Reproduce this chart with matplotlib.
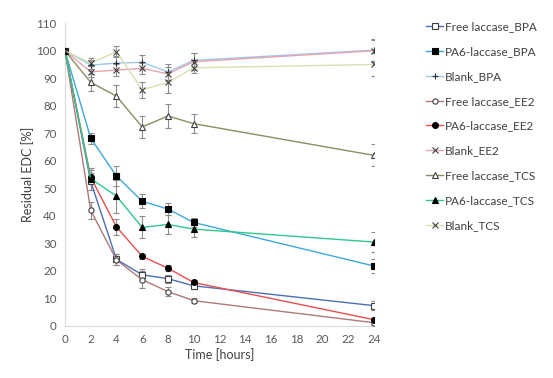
import matplotlib
matplotlib.use("Agg")
import matplotlib.pyplot as plt

plt.rcParams['font.family'] = ['Lato', 'DejaVu Sans']

time = [0, 2, 4, 6, 8, 10, 24]

free_bpa = [100, 52.5, 24.2, 18.6, 17.2, 14.6, 7.4]
pa6_bpa = [100, 68.2, 54.5, 45.3, 42.5, 37.6, 21.8]
blank_bpa = [100, 94.8, 95.5, 95.8, 92.3, 96.5, 100.2]
free_ee2 = [100, 42.0, 24.0, 16.8, 12.5, 9.2, 1.2]
pa6_ee2 = [100, 54.0, 36.0, 25.3, 21.0, 15.8, 2.3]
blank_ee2 = [100, 92.3, 93.0, 93.6, 91.6, 96.0, 100.0]
free_tcs = [100, 88.5, 83.5, 72.3, 76.3, 73.5, 62.0]
pa6_tcs = [100, 53.5, 47.2, 35.8, 36.9, 35.2, 30.5]
blank_tcs = [100, 95.5, 99.7, 85.8, 88.5, 93.8, 95.0]

err_free_bpa = [0, 3.0, 2.0, 2.0, 1.5, 1.2, 1.5]
err_pa6_bpa = [0, 2.0, 3.5, 2.5, 2.0, 1.5, 2.5]
err_blank_bpa = [0, 2.0, 2.5, 2.5, 3.0, 2.5, 4.0]
err_free_ee2 = [0, 3.0, 2.0, 3.0, 1.5, 1.0, 1.0]
err_pa6_ee2 = [0, 2.5, 3.0, 1.0, 1.0, 1.0, 1.0]
err_blank_ee2 = [0, 2.0, 2.0, 2.0, 2.5, 3.0, 4.0]
err_free_tcs = [0, 3.0, 4.0, 4.0, 4.5, 3.5, 4.0]
err_pa6_tcs = [0, 4.0, 6.0, 4.0, 3.5, 3.0, 3.5]
err_blank_tcs = [0, 2.0, 2.0, 3.0, 4.0, 2.0, 4.0]

labels = ["Free laccase_BPA", "PA6-laccase_BPA", "Blank_BPA",
          "Free laccase_EE2", "PA6-laccase_EE2", "Blank_EE2",
          "Free laccase_TCS", "PA6-laccase_TCS", "Blank_TCS"]

series = [free_bpa, pa6_bpa, blank_bpa, free_ee2, pa6_ee2, blank_ee2,
          free_tcs, pa6_tcs, blank_tcs]
errors = [err_free_bpa, err_pa6_bpa, err_blank_bpa, err_free_ee2, err_pa6_ee2,
          err_blank_ee2, err_free_tcs, err_pa6_tcs, err_blank_tcs]
colors = ["#4a6fb5", "#3aa8dc", "#9cc8ec", "#b07878", "#e8504e", "#e8a4ae",
          "#8c8c64", "#2ec88a", "#d6e2b0"]
markers = ["s", "s", "+", "o", "o", "x", "^", "^", "x"]
faces = ["white", "black", "black", "white", "black", "black", "white", "black", "black"]
edges = ["#404040", "black", "#303030", "#404040", "black", "#404040", "#404040", "black", "#404040"]
sizes = [3.8, 4.2, 5, 3.8, 4.2, 4, 4, 4.3, 4.3]

fig = plt.figure(figsize=(5.53, 3.78), dpi=100)
ax = fig.add_axes([0.1175, 0.1376, 0.5585, 0.801])

handles = []
for y, e, c, m, f, ec, s, lab in zip(series, errors, colors, markers, faces, edges, sizes, labels):
    ax.errorbar(time, y, yerr=e, fmt='none', ecolor='#8c8c8c', elinewidth=0.8,
                capsize=2.5, capthick=0.8, zorder=2)
    h, = ax.plot(time, y, color=c, lw=1.0, marker=m, markersize=s,
                 markerfacecolor=f, markeredgecolor=ec, markeredgewidth=0.8,
                 label=lab, zorder=3)
    handles.append(h)

ax.set_xlim(0, 24)
ax.set_ylim(0, 110)
ax.set_xticks(range(0, 25, 2))
ax.set_yticks(range(0, 111, 10))
for sp in ['top', 'right']:
    ax.spines[sp].set_visible(False)
for sp in ['left', 'bottom']:
    ax.spines[sp].set_color('#d9d9d9')
ax.tick_params(length=0, labelsize=8.3, colors='#595959', pad=6)
ax.set_xlabel("Time [hours]", fontsize=9, color='#404040', labelpad=2)
ax.set_ylabel("Residual EDC [%]", fontsize=9, color='#404040', labelpad=2)

fig.legend(handles=handles, labels=labels, loc='upper left',
           bbox_to_anchor=(0.752, 0.972), frameon=False, fontsize=8.5,
           handlelength=1.4, handletextpad=0.2, labelspacing=1.17,
           labelcolor='#404040')

fig.savefig("out.png", dpi=100)
